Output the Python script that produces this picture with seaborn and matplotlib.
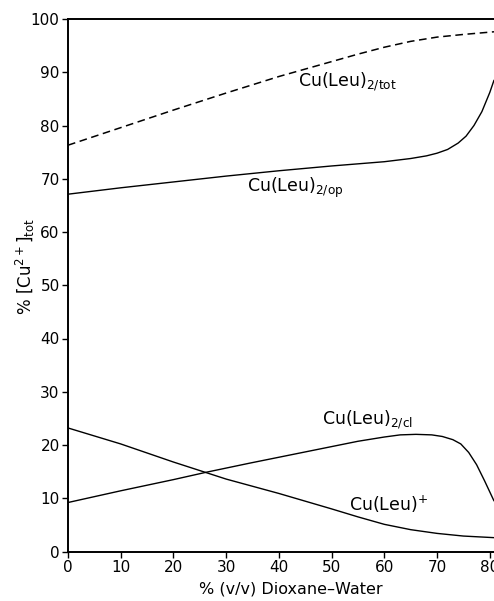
import numpy as np
import pandas as pd
import matplotlib
matplotlib.use("Agg")
import matplotlib.pyplot as plt
import seaborn as sns

# Values (x = % v/v dioxane, y = % of total Cu2+)
tot_x = [0, 10, 20, 30, 40, 50, 55, 60, 65, 70, 75, 80.8]
tot_y = [76.3, 79.6, 82.9, 86.1, 89.2, 92.0, 93.4, 94.7, 95.8, 96.6, 97.1, 97.6]

op_x = [0, 10, 20, 30, 40, 50, 60, 65, 68, 70, 72, 74, 75.5, 77, 78.5, 80, 80.8]
op_y = [67.1, 68.3, 69.4, 70.5, 71.5, 72.4, 73.2, 73.8, 74.3, 74.8, 75.5, 76.7, 78.0, 80.0, 82.6, 86.2, 88.5]

cl_x = [0, 10, 20, 26.3, 34.5, 40, 50, 55, 60, 63, 66, 69, 71, 73, 74.5, 76, 77.5, 79, 80.8]
cl_y = [9.2, 11.4, 13.5, 14.9, 16.6, 17.7, 19.7, 20.7, 21.5, 21.9, 22.0, 21.9, 21.6, 21.0, 20.2, 18.6, 16.3, 13.3, 9.5]

ml_x = [0, 10, 20, 30, 40, 50, 55, 60, 65, 70, 75, 80.8]
ml_y = [23.2, 20.2, 16.8, 13.6, 10.9, 8.0, 6.5, 5.1, 4.1, 3.4, 2.9, 2.6]

x_ticks = [0, 10, 20, 30, 40, 50, 60, 70, 80]
y_ticks = [0, 10, 20, 30, 40, 50, 60, 70, 80, 90, 100]

sns.set_style("ticks")
plt.rcParams['font.family'] = ['DejaVu Sans']
plt.rcParams['text.color'] = 'black'

fig = plt.figure(figsize=(4.94, 6.01), dpi=100)
ax = fig.add_axes([68 / 494, 49.5 / 601, 426 / 494, 532.5 / 601])

sns.lineplot(x=tot_x, y=tot_y, ax=ax, color="black", lw=1.1, linestyle=(0, (5, 3)))
sns.lineplot(x=op_x, y=op_y, ax=ax, color="black", lw=1.0)
sns.lineplot(x=cl_x, y=cl_y, ax=ax, color="black", lw=1.0)
sns.lineplot(x=ml_x, y=ml_y, ax=ax, color="black", lw=1.0)

ax.set_xlim(0, 80.8)
ax.set_ylim(0, 100)
ax.set_xticks(x_ticks)
ax.set_yticks(y_ticks)
ax.tick_params(direction="out", length=4, width=1.0, labelsize=11, pad=2,
               colors="black", labelcolor="black")

for side in ["left", "bottom", "top"]:
    ax.spines[side].set_linewidth(1.4)
    ax.spines[side].set_color("black")
ax.spines["right"].set_visible(False)

ax.set_xlabel("% (v/v) Dioxane\u2013Water", fontsize=11.5, color="black")
ax.xaxis.set_label_coords(0.523, -0.057)
ax.set_ylabel("% [Cu$^{2+}$]$_{\\rm tot}$", fontsize=12, color="black")
ax.yaxis.set_label_coords(-0.072, 0.535)

fs = 12.5
ax.text(43.6, 88.2, "Cu(Leu)$_{2/\\rm tot}$", fontsize=fs, va="center", ha="left")
ax.text(34.0, 68.3, "Cu(Leu)$_{2/\\rm op}$", fontsize=fs, va="center", ha="left")
ax.text(48.1, 24.7, "Cu(Leu)$_{2/\\rm cl}$", fontsize=fs, va="center", ha="left")
ax.text(53.3, 8.9, "Cu(Leu)$^{+}$", fontsize=fs, va="center", ha="left")

fig.savefig("out.png", dpi=100)
